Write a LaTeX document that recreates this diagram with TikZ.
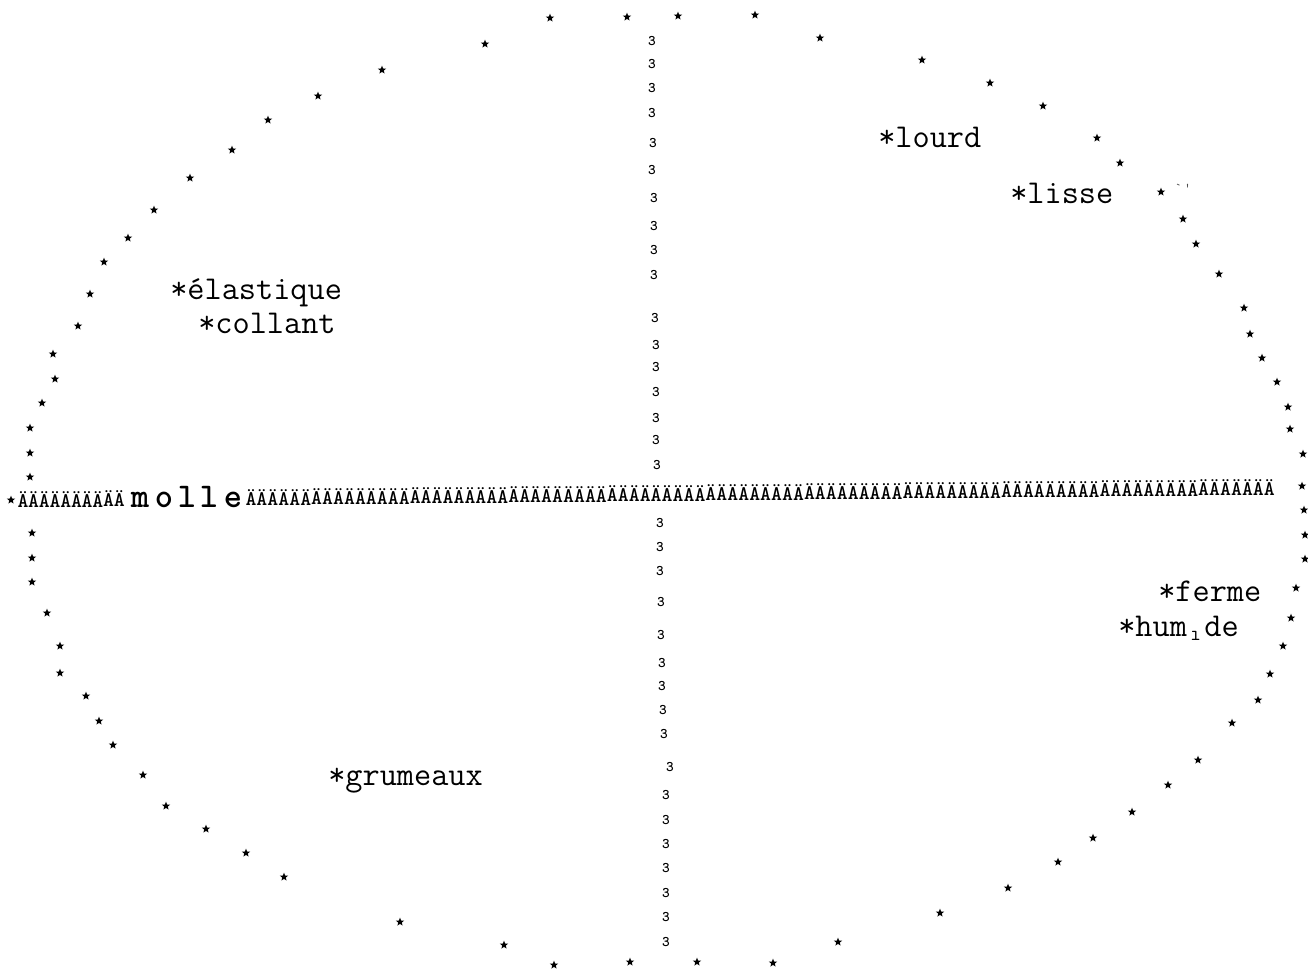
\documentclass[tikz,border=0pt]{standalone}
\usepackage{fontspec}
\usetikzlibrary{shapes.geometric}
\newcommand{\tw}{\ttfamily}
\begin{document}
\begin{tikzpicture}[x=0.75pt,y=-0.75pt,
  st/.style={star,star points=5,star point ratio=2.3,fill=black,draw=none,inner sep=0pt,minimum size=6.5pt},
  lbl/.style={font=\tw\fontsize{25}{28}\selectfont,anchor=base west,inner sep=0pt},
  ae/.style={font=\tw\bfseries\fontsize{15.6}{17}\selectfont,inner sep=0pt},
  mk/.style={font=\tw\bfseries\fontsize{11}{12}\selectfont,inner sep=0pt},
  ml/.style={font=\tw\bfseries\fontsize{26}{28}\selectfont,inner sep=0pt,anchor=base},
  speck/.style={font=\tw\fontsize{10}{11}\selectfont,inner sep=0pt,text=black!70}]
\useasboundingbox (0,0) rectangle (1308,979);
% ring of stars
\foreach \x/\y [count=\n] in {550/18,627/17,678/16,755/15,820/38,922/60,990/83,1043/106,1097/138,1120/163,
  1161/192,1183/219,1196/244,1219/274,1244/308,1250/334,1262/358,1277/382,1288/407,1290/429,
  1303/454,1302/486,1304/510,1305/535,1305/559,1296/588,1291/618,1283/646,1270/674,1258/700,
  1232/723,1198/760,1168/785,1132/812,1093/838,1058/862,1008/888,940/913,838/942,773/963,
  697/962,630/962,554/965,504/945,400/922,284/877,246/853,206/829,166/806,143/775,
  113/745,99/721,86/696,60/673,60/646,47/613,32/582,32/558,32/533,11/500,
  30/477,30/453,30/428,42/403,55/379,53/354,78/326,90/294,104/262,128/238,
  154/210,190/178,232/150,268/120,318/96,382/70,485/44}
  \node[st] (s\n) at (\x,\y) {};
% vertical line of marks
\foreach \x/\y [count=\n] in {652/41,652/64,652/88,652/113,653/143,652/170,654/198,654/226,654/250,654/275,
  655/318,656/345,656/367,656/392,656/418,656/440,657/465,
  660/523,660/547,660/571,661/602,661/635,662/663,662/686,663/710,664/734,670/767,
  666/795,666/820,666/844,666/868,666/893,666/917,666/942}
  \node[mk] (m\n) at (\x,\y) {3};
% horizontal line of A-umlauts with "molle"
\foreach \i in {0,...,9}{
  \pgfmathsetmacro\xx{23+\i*10.7}
  \pgfmathsetmacro\yy{500-(\xx-11)*0.0101}
  \node[ae] (al\i) at (\xx,\yy) {Ä};}
\foreach \c/\x [count=\n] in {m/140,o/164,l/187,l/209,e/233}
  \node[ml] (ml\n) at (\x,507) {\c};
\foreach \i in {0,...,93}{
  \pgfmathsetmacro\xx{251+\i*10.95}
  \pgfmathsetmacro\yy{500-(\xx-11)*0.0101}
  \node[ae] (ar\i) at (\xx,\yy) {Ä};}
% labels
\node[lbl] (lourd) at (878,147) {*lourd};
\node[lbl] (lisse) at (1010,203) {*lisse};
\node[speck] (sp1) at (1183,188) {`\,'};
\node[lbl] (elast) at (170,299) {*élastique};
\node[lbl] (coll) at (198,333) {*collant};
\node[lbl] (ferme) at (1158,601) {*ferme};
\node[lbl] (humide) at (1118,636) {*hum\makebox[0.525em]{\raisebox{-0.12em}{\fontsize{16}{16}\selectfont ı}}de};
\node[lbl] (grum) at (328,785) {*grumeaux};
\end{tikzpicture}
\end{document}
